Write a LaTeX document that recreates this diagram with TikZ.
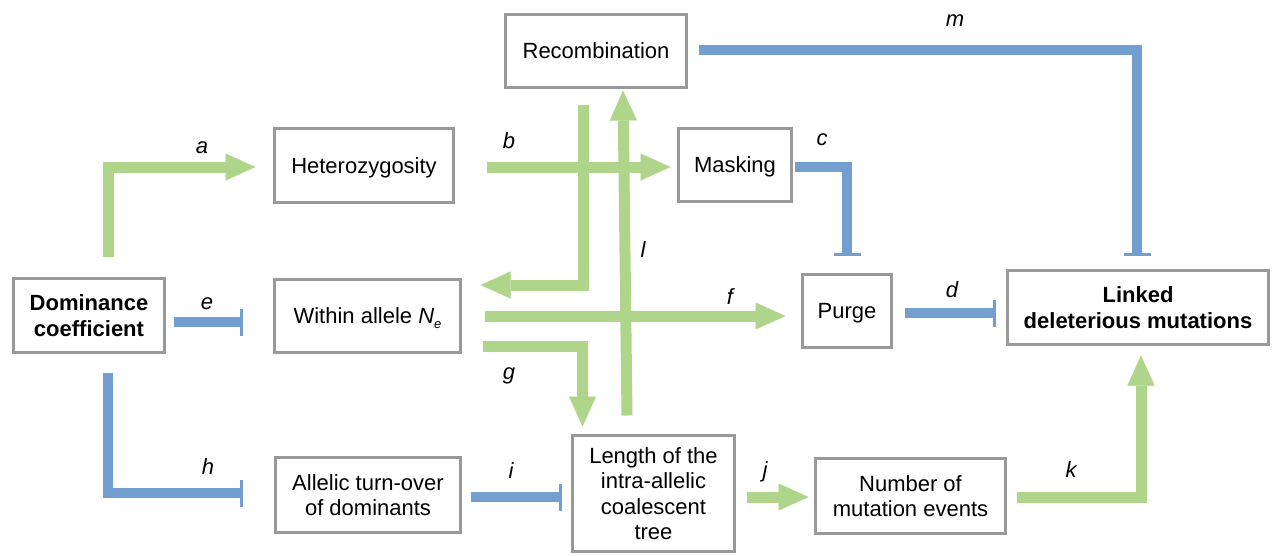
\documentclass[tikz,border=0pt]{standalone}
\usepackage{fontspec}
\setmainfont{Liberation Sans}
\usetikzlibrary{arrows.meta,calc}
\definecolor{gline}{RGB}{175,213,138}
\definecolor{bline}{RGB}{114,159,207}
\definecolor{bordergray}{RGB}{153,153,153}
\begin{document}
\begin{tikzpicture}[x=1pt,y=-1pt,
  box/.style={draw=bordergray, line width=3pt, fill=white, inner sep=0pt, align=center,
    font=\fontsize{22}{25.3}\selectfont},
  oneline/.style={text depth=0pt},
  gconn/.style={draw=gline, line width=11pt, line join=miter,
    -{Triangle[length=30pt,width=27pt,line width=0.01pt]}},
  bconn/.style={draw=bline, line width=10.5pt, line join=miter,
    -{Bar[width=27pt,line width=3pt]}},
  lab/.style={inner sep=0pt, font=\fontsize{22}{25}\selectfont\itshape}
]
\useasboundingbox (0,0) rectangle (1272,555);

% nodes
\node[box, oneline, minimum width=181pt, minimum height=73pt] (rec) at (596,51) {Recombination};
\node[box, oneline, minimum width=179pt, minimum height=74pt] (het) at (364,165.5) {Heterozygosity};
\node[box, oneline, minimum width=113pt, minimum height=73pt] (mask) at (735,165) {Masking};
\node[box, minimum width=151pt, minimum height=74pt, font=\fontsize{22}{25.3}\selectfont\bfseries] (dom) at (89,315.5) {Dominance\\coefficient};
\node[box, oneline, minimum width=186pt, minimum height=73pt] (win) at (367.5,316) {Within allele {\itshape N}\raisebox{-5pt}{\fontsize{13}{13}\selectfont\itshape e}};
\node[box, oneline, minimum width=89pt, minimum height=73pt] (purge) at (847,311) {Purge};
\node[box, minimum width=261pt, minimum height=74pt, font=\fontsize{22}{25.3}\selectfont\bfseries] (linked) at (1138,307.5) {Linked\\deleterious mutations};
\node[box, minimum width=185pt, minimum height=75pt] (allelic) at (368,495) {Allelic turn-over\\of dominants};
\node[box, minimum width=162pt, minimum height=116pt] (length) at (653.5,493.5) {Length of the\\intra-allelic\\coalescent\\tree};
\node[box, minimum width=190pt, minimum height=75pt] (number) at (910.5,496) {Number of\\mutation events};

% connectors
\draw[gconn] ($(dom.north)+(19,-20.5)$) |- ($(het.west)+(-17.5,1.5)$);
\draw[gconn] ($(rec.south)+(-13,15.5)$) |- ($(win.east)+(18.5,-31)$);
\draw[gconn] ($(het.east)+(31.5,1.5)$) -- ($(mask.west)+(-6.5,2)$);
\draw[gconn] ($(length.north)+(-26.5,-18.5)$) -- ($(rec.south)+(27,1.5)$);
\draw[bconn] ($(mask.east)+(1.5,2)$) -| ($(purge.north)+(0,-17.5)$);
\draw[bconn] ($(purge.east)+(11.5,2)$) -- ($(linked.west)+(-10.5,5.5)$);
\draw[bconn] ($(dom.east)+(7.5,6.5)$) -- ($(win.west)+(-30.5,6)$);
\draw[gconn] ($(win.east)+(22.5,0)$) -- ($(purge.west)+(-15.5,5)$);
\draw[gconn] ($(win.east)+(20.5,30)$) -| ($(length.north west)+(11.5,-7.5)$);
\draw[bconn] ($(dom.south)+(19,18.5)$) |- ($(allelic.west)+(-31.5,-2)$);
\draw[bconn] ($(allelic.east)+(8.5,2)$) -- ($(length.west)+(-9.5,3.5)$);
\draw[gconn] ($(length.east)+(10.5,3.5)$) -- ($(number.west)+(-5.5,1)$);
\draw[gconn] ($(number.east)+(9.5,1)$) -| ($(linked.south)+(3,9.5)$);
\draw[bconn] ($(rec.east)+(10.5,-1)$) -| ($(linked.north)+(-1,-13.5)$);

% labels
\node[lab] (la) at (202,148) {a};
\node[lab] (lb) at (509,141) {b};
\node[lab] (lc) at (822,140) {c};
\node[lab] (ld) at (952,289.5) {d};
\node[lab] (le) at (207,304) {e};
\node[lab] (lf) at (730,297) {f};
\node[lab] (lg) at (509,376) {g};
\node[lab] (lh) at (208,467) {h};
\node[lab] (li) at (511,471) {i};
\node[lab] (lj) at (765,472) {j};
\node[lab] (lk) at (1071,470) {k};
\node[lab] (ll) at (643,250) {l};
\node[lab] (lm) at (955,21) {m};
\end{tikzpicture}
\end{document}
